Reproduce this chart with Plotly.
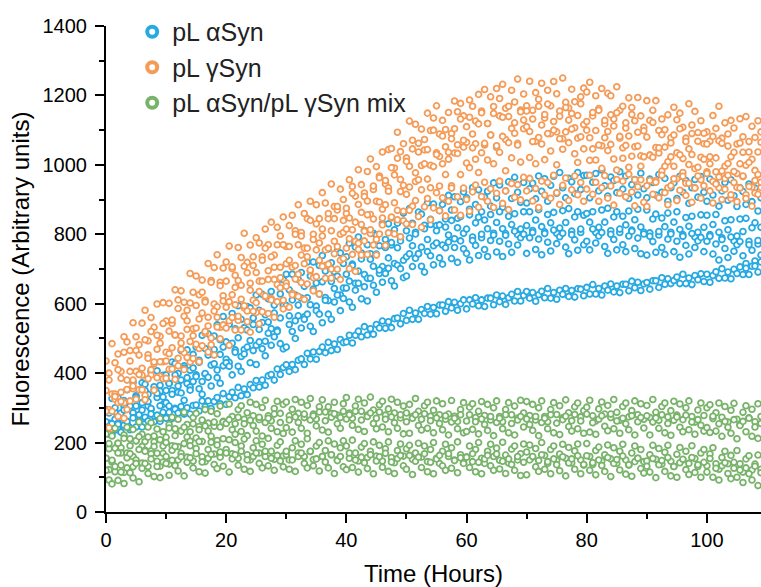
import numpy as np
import plotly.graph_objects as go

# Plate-reader time points (hours), one reading every 30 min
READ_TIMES = list(np.arange(0, 109.5, 0.5))

# ---- pL aSyn : fluorescence per well ----
ASYN_WELL_1 = [
    295, 256, 327, 288, 329, 270, 321, 352, 308, 374, 335, 311, 372, 368, 339, 405, 361, 407, 348, 394,
    395, 371, 432, 428, 399, 465, 421, 467, 408, 454, 475, 437, 509, 471, 513, 455, 507, 539, 496, 563,
    490, 541, 572, 528, 594, 555, 531, 592, 588, 559, 625, 581, 627, 568, 614, 635, 596, 667, 628, 669,
    685, 640, 685, 625, 670, 690, 650, 720, 680, 720, 660, 710, 739, 694, 758, 718, 692, 752, 746, 716,
    735, 774, 714, 763, 792, 746, 811, 770, 744, 803, 798, 767, 831, 785, 830, 769, 813, 832, 792, 861,
    810, 874, 832, 806, 864, 858, 826, 890, 843, 887, 825, 868, 886, 844, 912, 870, 908, 846, 894, 922,
    905, 872, 934, 886, 928, 865, 907, 924, 881, 948, 905, 942, 878, 925, 951, 903, 964, 921, 892, 949,
    890, 931, 947, 902, 968, 924, 960, 895, 941, 967, 918, 978, 934, 905, 961, 951, 917, 978, 929, 969,
    970, 905, 950, 975, 925, 985, 940, 910, 965, 955, 920, 980, 930, 968, 903, 943, 958, 913, 976, 931,
    905, 959, 949, 913, 972, 921, 961, 895, 934, 948, 903, 967, 921, 955, 889, 934, 958, 907, 966, 921,
    895, 959, 913, 947, 881, 925, 949, 898, 957, 911, 880, 934, 923, 886, 945, 894, 933, 867, 905,
]
ASYN_WELL_2 = [
    230, 285, 255, 300, 240, 285, 305, 250, 305, 285, 330, 280, 315, 350, 305, 295, 350, 330, 365, 310,
    315, 370, 350, 395, 345, 380, 415, 370, 360, 415, 395, 431, 376, 397, 452, 423, 468, 409, 454, 475,
    440, 431, 486, 467, 502, 448, 468, 524, 494, 540, 480, 526, 546, 492, 547, 528, 573, 524, 559, 595,
    595, 565, 611, 551, 596, 616, 562, 617, 597, 642, 593, 628, 663, 618, 609, 664, 644, 679, 625, 645,
    685, 665, 710, 659, 694, 729, 684, 673, 728, 708, 743, 687, 707, 762, 732, 776, 716, 761, 781, 725,
    735, 789, 767, 801, 744, 763, 816, 785, 828, 767, 810, 827, 769, 821, 798, 840, 787, 819, 851, 803,
    815, 856, 792, 833, 849, 790, 841, 816, 857, 803, 834, 865, 816, 802, 852, 828, 859, 799, 815, 865,
    825, 865, 811, 841, 871, 822, 807, 857, 833, 863, 803, 818, 868, 834, 874, 809, 850, 865, 805, 855,
    860, 835, 865, 805, 820, 870, 835, 875, 810, 850, 865, 805, 852, 827, 867, 812, 842, 872, 821, 806,
    870, 804, 844, 858, 798, 847, 822, 861, 806, 835, 865, 814, 799, 848, 823, 852, 792, 806, 856, 820,
    855, 799, 828, 857, 806, 790, 839, 813, 842, 781, 795, 844, 808, 846, 780, 819, 833, 772, 820,
]
ASYN_WELL_3 = [
    260, 224, 222, 267, 256, 230, 294, 253, 237, 286, 305, 260, 294, 254, 318, 298, 277, 342, 306, 331,
    350, 305, 339, 299, 363, 343, 322, 387, 351, 376, 390, 355, 339, 399, 388, 363, 427, 387, 371, 421,
    430, 420, 395, 460, 420, 405, 455, 475, 430, 465, 425, 490, 470, 450, 515, 480, 505, 520, 485, 470,
    475, 540, 520, 500, 565, 530, 555, 570, 535, 520, 580, 570, 545, 610, 570, 555, 605, 625, 580, 615,
    645, 605, 590, 639, 659, 614, 649, 608, 673, 653, 633, 697, 662, 687, 702, 666, 651, 711, 701, 675,
    680, 744, 707, 731, 744, 708, 691, 750, 738, 712, 775, 732, 714, 761, 778, 730, 762, 719, 781, 758,
    745, 726, 782, 768, 739, 800, 756, 736, 782, 798, 749, 780, 736, 797, 772, 748, 809, 769, 790, 800,
    745, 790, 805, 756, 786, 741, 802, 777, 752, 812, 773, 793, 803, 763, 744, 799, 784, 754, 815, 770,
    780, 755, 815, 775, 795, 805, 765, 745, 800, 785, 755, 815, 770, 750, 795, 809, 759, 789, 744, 801,
    740, 794, 779, 748, 808, 762, 742, 786, 801, 750, 780, 734, 794, 768, 743, 802, 762, 781, 791, 750,
    780, 794, 743, 772, 726, 785, 759, 733, 792, 751, 770, 779, 738, 716, 770, 754, 723, 782, 740,
]
ASYN_WELL_4 = [
    243, 225, 254, 236, 253, 230, 250, 261, 243, 271, 245, 263, 245, 273, 262, 282, 260, 279, 261, 287,
    270, 287, 269, 296, 285, 304, 282, 300, 282, 307, 308, 291, 320, 303, 320, 298, 318, 330, 312, 341,
    310, 332, 345, 329, 359, 335, 354, 338, 367, 358, 379, 360, 380, 365, 392, 396, 380, 412, 396, 416,
    424, 405, 425, 410, 437, 441, 425, 457, 441, 461, 440, 462, 475, 459, 489, 465, 484, 468, 497, 488,
    490, 509, 487, 509, 521, 505, 534, 510, 528, 512, 540, 530, 550, 529, 548, 531, 557, 559, 542, 572,
    552, 581, 555, 573, 555, 583, 572, 592, 570, 589, 571, 596, 596, 578, 606, 588, 604, 581, 600, 611,
    585, 611, 599, 617, 594, 611, 592, 616, 616, 597, 625, 606, 622, 598, 617, 627, 608, 635, 608, 624,
    635, 616, 632, 607, 626, 636, 617, 644, 616, 632, 613, 639, 627, 644, 621, 638, 619, 643, 642, 623,
    647, 628, 655, 628, 644, 625, 651, 639, 657, 634, 651, 632, 656, 656, 637, 665, 646, 662, 638, 657,
    661, 642, 666, 666, 647, 675, 656, 672, 658, 667, 677, 658, 685, 658, 674, 655, 681, 669, 686, 664,
    685, 662, 681, 692, 673, 701, 674, 691, 672, 699, 687, 706, 684, 702, 684, 708, 709, 691, 720,
]

# ---- pL gSyn : fluorescence per well ----
GSYN_WELL_1 = [
    435, 380, 485, 430, 455, 405, 505, 490, 465, 545, 505, 482, 544, 581, 493, 560, 532, 599, 506, 603,
    550, 601, 543, 640, 611, 637, 604, 581, 687, 633, 680, 626, 668, 610, 716, 667, 704, 741, 662, 703,
    720, 766, 701, 682, 762, 733, 803, 719, 769, 710, 790, 775, 735, 815, 770, 835, 740, 820, 795, 850,
    765, 825, 855, 810, 885, 805, 860, 845, 895, 800, 885, 845, 920, 890, 845, 945, 880, 870, 930, 900,
    860, 957, 938, 910, 986, 943, 919, 981, 1017, 929, 995, 968, 1037, 945, 1044, 1047, 991, 1094, 1038, 1061,
    1020, 1126, 1071, 1117, 1062, 1103, 1043, 1149, 1099, 1135, 1170, 1089, 1128, 1102, 1151, 1090, 1184, 1153, 1177, 1141,
    1110, 1187, 1169, 1126, 1203, 1155, 1217, 1119, 1196, 1168, 1220, 1191, 1232, 1163, 1139, 1215, 1181, 1247, 1158, 1204,
    1170, 1241, 1157, 1208, 1189, 1235, 1135, 1215, 1170, 1240, 1205, 1155, 1250, 1180, 1164, 1218, 1182, 1142, 1196, 1221,
    1210, 1238, 1141, 1199, 1162, 1220, 1118, 1206, 1199, 1132, 1225, 1157, 1169, 1106, 1193, 1165, 1127, 1194, 1141, 1108,
    1185, 1128, 1157, 1185, 1099, 1132, 1101, 1144, 1078, 1166, 1130, 1149, 1108, 1077, 1176, 1115, 1154, 1093, 1127, 1061,
    1095, 1068, 1142, 1105, 1169, 1077, 1121, 1054, 1128, 1106, 1060, 1133, 1081, 1139, 1037, 1111, 1079, 1127, 1095,
]
GSYN_WELL_2 = [
    350, 400, 340, 325, 410, 385, 460, 380, 435, 380, 465, 452, 414, 496, 453, 520, 427, 509, 486, 543,
    460, 521, 553, 510, 586, 507, 564, 551, 602, 508, 595, 556, 633, 605, 561, 662, 599, 591, 652, 623,
    665, 606, 706, 647, 667, 613, 708, 689, 659, 735, 690, 665, 725, 760, 670, 735, 705, 770, 675, 770,
    715, 765, 705, 800, 770, 795, 760, 735, 840, 785, 830, 775, 815, 755, 860, 810, 845, 880, 800, 840,
    875, 847, 918, 835, 886, 828, 909, 896, 857, 939, 895, 963, 872, 955, 934, 992, 971, 1019, 958, 941,
    1010, 996, 1046, 952, 1037, 998, 1073, 1044, 999, 1100, 1035, 1024, 1083, 1052, 1016, 1075, 1104, 1058, 1132, 1051,
    1065, 1137, 1089, 1061, 1118, 1150, 1057, 1119, 1086, 1148, 1050, 1141, 1137, 1073, 1169, 1105, 1121, 1062, 1153, 1129,
    1155, 1096, 1132, 1068, 1169, 1115, 1145, 1175, 1090, 1125, 1095, 1140, 1075, 1165, 1129, 1148, 1107, 1077, 1176, 1116,
    1125, 1078, 1151, 1099, 1157, 1055, 1128, 1096, 1144, 1112, 1150, 1077, 1049, 1121, 1083, 1145, 1052, 1094, 1026, 1098,
    1080, 1028, 1122, 1050, 1034, 1087, 1051, 1009, 1063, 1086, 1035, 1104, 1018, 1067, 1046, 1090, 989, 1068, 1022, 1091,
    1060, 1023, 1082, 980, 1069, 1062, 996, 1089, 1023, 1036, 975, 1063, 1036, 999, 1067, 1016, 984, 1037, 1065,
]
GSYN_WELL_3 = [
    240, 295, 240, 340, 315, 345, 315, 295, 405, 355, 405, 352, 394, 336, 443, 395, 432, 469, 391, 433,
    435, 411, 473, 510, 421, 487, 459, 526, 432, 528, 530, 471, 573, 515, 536, 482, 579, 561, 532, 608,
    590, 551, 626, 597, 552, 653, 588, 579, 639, 610, 575, 635, 665, 620, 695, 615, 670, 655, 705, 610,
    660, 725, 630, 710, 685, 740, 715, 760, 695, 675, 755, 725, 795, 710, 760, 700, 780, 765, 725, 805,
    815, 787, 813, 780, 756, 863, 809, 856, 802, 844, 785, 893, 847, 885, 924, 847, 891, 869, 923, 866,
    915, 936, 881, 977, 957, 928, 1003, 959, 934, 995, 1030, 939, 1003, 972, 1036, 940, 1034, 1033, 972, 1071,
    1005, 992, 1049, 1016, 978, 1035, 1062, 1014, 1086, 1003, 1055, 1036, 1082, 983, 1064, 1020, 1091, 1057, 1008, 1104,
    1110, 1021, 1067, 1003, 1079, 1060, 1015, 1090, 1040, 1100, 1000, 1075, 1045, 1095, 1064, 1103, 1032, 1007, 1081, 1046,
    1100, 1013, 1046, 1014, 1057, 990, 1078, 1041, 1059, 1017, 985, 1082, 1019, 1056, 993, 1025, 957, 1054, 996, 1023,
    940, 1028, 1022, 955, 1049, 982, 996, 934, 1023, 996, 960, 1029, 978, 947, 1001, 1030, 934, 993, 957, 1016,
    980, 1003, 952, 1020, 934, 982, 961, 1004, 903, 981, 935, 1003, 966, 914, 1007, 936, 919, 972, 935,
]
GSYN_WELL_4 = [
    290, 243, 290, 333, 275, 318, 270, 353, 320, 363, 325, 396, 352, 323, 384, 410, 351, 387, 433, 384,
    385, 456, 412, 382, 443, 469, 410, 445, 491, 442, 483, 433, 479, 520, 461, 501, 452, 533, 499, 539,
    530, 480, 560, 524, 564, 524, 594, 548, 518, 578, 603, 542, 577, 622, 572, 611, 561, 606, 646, 585,
    650, 590, 626, 671, 621, 661, 612, 657, 697, 637, 678, 628, 708, 673, 714, 674, 744, 699, 670, 730,
    760, 701, 742, 693, 774, 740, 781, 742, 813, 769, 740, 801, 827, 768, 804, 850, 801, 842, 793, 839,
    830, 869, 828, 897, 851, 820, 879, 903, 842, 876, 920, 868, 905, 853, 895, 933, 870, 908, 855, 933,
    900, 866, 922, 942, 878, 909, 950, 895, 931, 877, 918, 953, 889, 925, 871, 946, 907, 943, 899, 964,
    925, 961, 896, 932, 877, 953, 913, 949, 904, 970, 920, 886, 941, 962, 897, 928, 968, 914, 949, 895,
    930, 970, 915, 950, 895, 934, 969, 904, 939, 884, 958, 918, 953, 908, 973, 922, 882, 937, 957, 892,
    880, 955, 915, 950, 905, 970, 920, 885, 940, 960, 897, 927, 967, 912, 947, 892, 933, 968, 904, 940,
    975, 925, 890, 945, 965, 900, 930, 970, 914, 949, 894, 933, 968, 903, 938, 881, 955, 915, 950,
]

# ---- pL aSyn / pL gSyn mix : fluorescence per well ----
MIX_WELL_1 = [
    225, 182, 219, 241, 198, 185, 222, 244, 211, 238, 205, 259, 224, 203, 245, 257, 219, 239, 269, 231,
    215, 252, 273, 240, 267, 234, 287, 252, 231, 272, 284, 246, 265, 295, 256, 290, 247, 283, 305, 261,
    258, 311, 275, 254, 295, 306, 267, 286, 316, 277, 310, 266, 301, 322, 277, 263, 298, 319, 284, 310,
    317, 277, 296, 324, 284, 316, 272, 307, 327, 282, 268, 303, 323, 288, 303, 284, 316, 279, 272, 312,
    330, 285, 270, 305, 325, 290, 314, 279, 331, 294, 270, 309, 319, 279, 297, 325, 285, 316, 271, 305,
    285, 310, 275, 327, 290, 267, 306, 316, 276, 293, 320, 280, 312, 267, 282, 321, 276, 261, 295, 315,
    262, 302, 312, 272, 290, 318, 278, 310, 265, 300, 320, 275, 260, 295, 315, 280, 305, 270, 322, 285,
    318, 278, 310, 265, 300, 320, 275, 260, 295, 315, 281, 306, 271, 323, 286, 263, 303, 314, 274, 292,
    302, 322, 277, 262, 297, 317, 282, 307, 272, 324, 287, 264, 304, 314, 274, 292, 320, 280, 312, 267,
    307, 272, 324, 287, 264, 304, 314, 274, 292, 319, 279, 311, 266, 300, 320, 275, 259, 294, 314, 278,
    300, 309, 269, 286, 314, 273, 304, 259, 293, 313, 267, 252, 287, 306, 271, 296, 260, 312, 275,
]
MIX_WELL_2 = [
    155, 197, 144, 184, 198, 170, 212, 170, 191, 160, 205, 217, 189, 178, 216, 176, 202, 169, 208, 190,
    200, 242, 191, 220, 188, 233, 244, 216, 204, 254, 213, 237, 203, 248, 233, 218, 259, 206, 245, 259,
    255, 266, 237, 224, 273, 232, 254, 220, 264, 249, 233, 273, 219, 258, 270, 241, 282, 231, 258, 226,
    243, 265, 230, 274, 258, 241, 282, 227, 265, 277, 248, 288, 236, 263, 230, 273, 283, 254, 241, 290,
    268, 280, 250, 290, 238, 265, 232, 275, 285, 255, 240, 288, 245, 267, 231, 274, 257, 241, 280, 225,
    260, 227, 270, 280, 249, 236, 283, 241, 263, 228, 271, 255, 237, 277, 222, 259, 270, 240, 280, 228,
    232, 280, 238, 260, 225, 268, 252, 235, 275, 220, 258, 270, 240, 280, 228, 255, 222, 265, 275, 245,
    268, 252, 235, 275, 220, 258, 270, 240, 280, 228, 256, 223, 266, 276, 246, 233, 281, 240, 262, 227,
    282, 230, 257, 224, 267, 277, 247, 234, 282, 240, 262, 227, 270, 254, 237, 277, 222, 260, 272, 242,
    277, 222, 259, 271, 241, 280, 228, 255, 221, 264, 274, 244, 231, 279, 237, 259, 224, 266, 250, 233,
    243, 229, 276, 233, 254, 218, 261, 244, 227, 266, 211, 249, 261, 231, 270, 218, 245, 212, 255,
]
MIX_WELL_3 = [
    155, 122, 149, 116, 170, 135, 114, 156, 168, 130, 150, 180, 141, 175, 131, 168, 189, 146, 132, 169,
    160, 138, 178, 189, 150, 169, 197, 158, 191, 147, 183, 203, 159, 145, 180, 201, 167, 193, 158, 211,
    180, 208, 168, 200, 155, 190, 210, 165, 150, 185, 205, 170, 195, 160, 212, 175, 152, 192, 202, 162,
    165, 150, 185, 205, 170, 195, 160, 211, 174, 151, 190, 200, 160, 177, 205, 165, 196, 151, 185, 205,
    190, 155, 207, 170, 147, 187, 197, 157, 175, 202, 161, 192, 147, 182, 202, 157, 142, 177, 196, 161,
    182, 192, 152, 170, 198, 158, 190, 145, 180, 200, 155, 140, 175, 195, 160, 185, 150, 202, 165, 142,
    158, 190, 145, 180, 200, 155, 140, 175, 195, 160, 184, 149, 201, 164, 141, 181, 190, 150, 168, 196,
    173, 193, 158, 183, 148, 200, 163, 140, 180, 190, 149, 167, 195, 155, 186, 141, 176, 196, 150, 135,
    197, 160, 137, 177, 187, 147, 165, 193, 153, 185, 140, 175, 195, 150, 135, 170, 190, 155, 180, 145,
    147, 165, 192, 152, 183, 138, 172, 192, 146, 131, 166, 186, 150, 175, 140, 191, 154, 131, 170, 180,
    133, 167, 185, 139, 123, 157, 175, 139, 163, 126, 177, 139, 115, 153, 162, 121, 138, 164, 123,
]
MIX_WELL_4 = [
    120, 92, 81, 131, 91, 115, 82, 127, 113, 98, 140, 87, 126, 140, 111, 153, 102, 131, 99, 144,
    140, 106, 149, 134, 118, 159, 104, 143, 156, 127, 168, 116, 144, 112, 155, 166, 137, 125, 173, 132,
    170, 115, 153, 165, 135, 175, 123, 150, 117, 160, 170, 140, 127, 175, 133, 155, 120, 163, 147, 130,
    175, 123, 150, 117, 160, 170, 140, 127, 175, 133, 153, 118, 160, 144, 127, 165, 111, 148, 160, 130,
    122, 170, 128, 150, 115, 158, 142, 125, 165, 110, 147, 159, 129, 169, 117, 144, 111, 154, 163, 133,
    123, 163, 108, 146, 158, 128, 168, 116, 143, 110, 153, 163, 133, 120, 168, 126, 148, 113, 156, 140,
    158, 128, 168, 116, 143, 110, 153, 163, 133, 120, 167, 124, 146, 111, 153, 137, 120, 160, 105, 143,
    107, 150, 160, 130, 117, 165, 123, 145, 110, 153, 136, 119, 159, 104, 141, 153, 123, 162, 110, 137,
    162, 120, 142, 107, 150, 134, 117, 157, 102, 140, 151, 121, 161, 109, 136, 103, 145, 155, 125, 112,
    132, 115, 154, 99, 136, 148, 117, 157, 104, 131, 100, 142, 152, 122, 108, 157, 114, 136, 100, 143,
    115, 154, 100, 126, 92, 133, 142, 111, 96, 143, 100, 121, 85, 127, 110, 92, 132, 76, 113,
]

SERIES_NAMES = ["pL \u03b1Syn", "pL \u03b3Syn", "pL \u03b1Syn/pL \u03b3Syn mix"]
SERIES_WELLS = [
    [ASYN_WELL_1, ASYN_WELL_2, ASYN_WELL_3, ASYN_WELL_4],
    [GSYN_WELL_1, GSYN_WELL_2, GSYN_WELL_3, GSYN_WELL_4],
    [MIX_WELL_1, MIX_WELL_2, MIX_WELL_3, MIX_WELL_4],
]
SERIES_COLORS = ["#27A9E1", "#F59B58", "#78B36A"]

X_TICKS = [0, 20, 40, 60, 80, 100]
Y_TICKS = [0, 200, 400, 600, 800, 1000, 1200, 1400]

FONT = "Arial, 'Liberation Sans', Helvetica, sans-serif"

fig = go.Figure()

for name, wells, color in zip(SERIES_NAMES, SERIES_WELLS, SERIES_COLORS):
    xs, ys = [], []
    for well in wells:
        assert len(well) == len(READ_TIMES), (name, len(well))
        xs += READ_TIMES
        ys += well
    fig.add_trace(go.Scatter(
        x=xs, y=ys, mode="markers", name=name, showlegend=False,
        hoverinfo="skip",
        marker=dict(symbol="circle", size=5.8, color="white",
                    line=dict(color=color, width=1.8)),
    ))

# legend keys: thick open rings
for name, color in zip(SERIES_NAMES, SERIES_COLORS):
    fig.add_trace(go.Scatter(
        x=[None], y=[None], mode="markers", name=name, showlegend=True,
        marker=dict(symbol="circle", size=10, color="white",
                    line=dict(color=color, width=4)),
    ))

axis_common = dict(
    showline=True, linecolor="black", linewidth=2,
    ticks="outside", ticklen=9, tickwidth=1.6, tickcolor="black",
    showgrid=False, zeroline=False, mirror=False,
    tickfont=dict(family=FONT, size=20, color="black"),
)

fig.update_xaxes(
    range=[0, 109.0], tickvals=X_TICKS,
    minor=dict(dtick=10, ticks="outside", ticklen=5, tickwidth=1.6, tickcolor="black"),
    title=dict(text="Time (Hours)", font=dict(family=FONT, size=24, color="black"), standoff=15),
    **axis_common,
)
fig.update_yaxes(
    range=[0, 1400], tickvals=Y_TICKS,
    minor=dict(dtick=100, ticks="outside", ticklen=5, tickwidth=1.6, tickcolor="black"),
    title=dict(text="Fluorescence (Arbitrary units)", font=dict(family=FONT, size=24, color="black"), standoff=6),
    ticklabelstandoff=4,
    **axis_common,
)

fig.update_layout(
    width=761, height=587,
    margin=dict(l=106, r=0, t=26, b=75, autoexpand=False),
    plot_bgcolor="white", paper_bgcolor="white",
    font=dict(family=FONT, size=20, color="#222222"),
    legend=dict(
        x=0.04, y=1.035, xanchor="left", yanchor="top",
        bgcolor="rgba(0,0,0,0)", borderwidth=0,
        font=dict(family=FONT, size=25, color="#222222"),
        itemsizing="trace", tracegroupgap=0,
    ),
)

fig.write_html("out.html")
